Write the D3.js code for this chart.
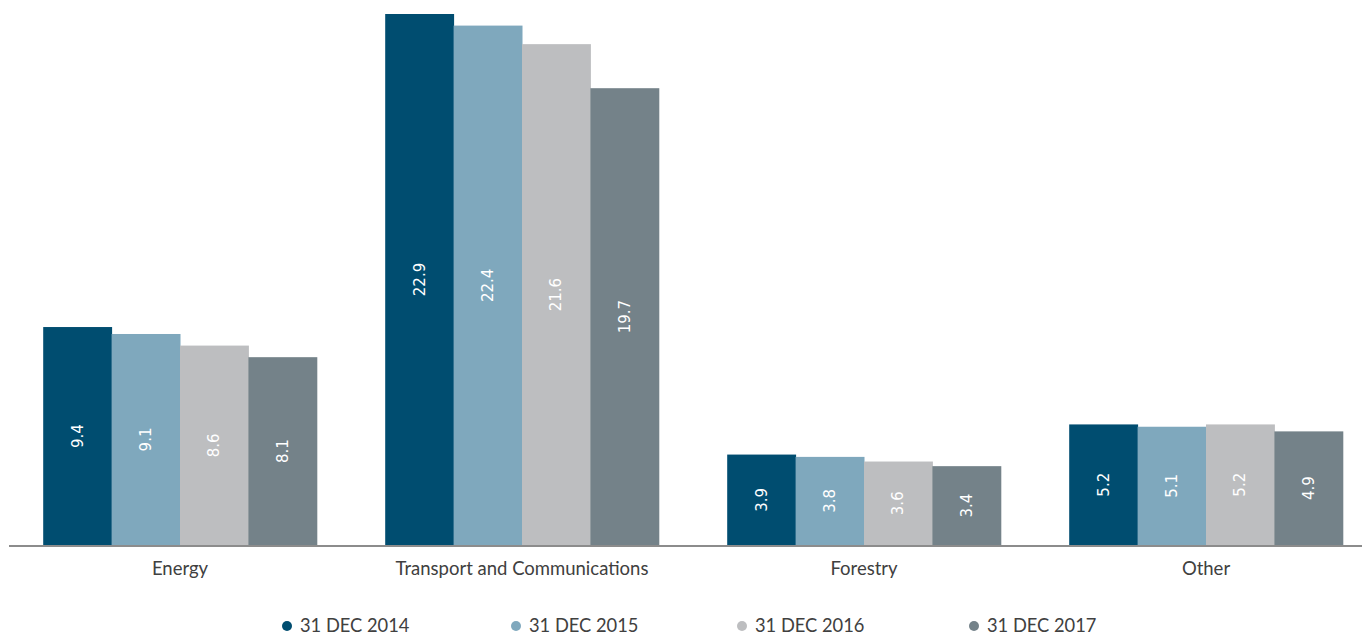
<!DOCTYPE html>
<html>
<head>
<meta charset="utf-8">
<script src="https://cdn.jsdelivr.net/npm/d3@7"></script>
<style>
  html, body { margin: 0; padding: 0; background: #ffffff; }
  svg { display: block; }
</style>
</head>
<body>
<svg id="chart" width="1362" height="635"></svg>
<script>
// Sector breakdown by reporting date
const categories = ["Energy", "Transport and Communications", "Forestry", "Other"];
const seriesNames = ["31 DEC 2014", "31 DEC 2015", "31 DEC 2016", "31 DEC 2017"];
const dec2014 = [9.4, 22.9, 3.9, 5.2];
const dec2015 = [9.1, 22.4, 3.8, 5.1];
const dec2016 = [8.6, 21.6, 3.6, 5.2];
const dec2017 = [8.1, 19.7, 3.4, 4.9];
const seriesColors = ["#004d70", "#7fa8bd", "#bdbec0", "#748289"];

const seriesValues = [dec2014, dec2015, dec2016, dec2017];

const svg = d3.select("#chart");
const baseY = 545;

const x0 = d3.scaleBand()
  .domain(categories)
  .range([9, 1377])
  .paddingInner(0.2)
  .paddingOuter(0.1);

const x1 = d3.scaleBand()
  .domain(seriesNames)
  .range([0, x0.bandwidth()])
  .padding(0);

const y = d3.scaleLinear()
  .domain([0, 22.9])
  .range([baseY, 14]);

const color = d3.scaleOrdinal().domain(seriesNames).range(seriesColors);

const rows = categories.map((c, i) => ({
  category: c,
  values: seriesNames.map((s, j) => ({ series: s, value: seriesValues[j][i] }))
}));

const groups = svg.append("g")
  .selectAll("g")
  .data(rows)
  .join("g")
  .attr("transform", d => `translate(${x0(d.category)},0)`);

groups.selectAll("rect")
  .data(d => d.values)
  .join("rect")
  .attr("x", d => x1(d.series))
  .attr("y", d => y(d.value))
  .attr("width", x1.bandwidth() + 0.5)
  .attr("height", d => baseY - y(d.value))
  .attr("fill", d => color(d.series));

groups.selectAll("text")
  .data(d => d.values)
  .join("text")
  .attr("transform", d => {
    const cx = x1(d.series) + x1.bandwidth() / 2;
    const cy = (y(d.value) + baseY) / 2;
    return `translate(${cx},${cy}) rotate(-90)`;
  })
  .attr("text-anchor", "middle")
  .attr("dy", "0.35em")
  .attr("fill", "#ffffff")
  .attr("font-family", "'DejaVu Sans', sans-serif")
  .attr("font-size", 15)
  .text(d => d.value.toFixed(1));

// Baseline axis
svg.append("line")
  .attr("x1", 9).attr("x2", 1362)
  .attr("y1", baseY + 1).attr("y2", baseY + 1)
  .attr("stroke", "#8c8c8c")
  .attr("stroke-width", 2);

const xAxis = d3.axisBottom(x0).tickSize(0).tickPadding(0);
const axisG = svg.append("g")
  .attr("transform", `translate(0,${baseY})`)
  .call(xAxis);
axisG.select(".domain").remove();
axisG.selectAll("text")
  .attr("y", 30)
  .attr("dy", 0)
  .attr("fill", "#404040")
  .attr("font-family", "Lato, 'Open Sans', sans-serif")
  .attr("font-size", 18.5);

// Legend
const legendX = [287, 516, 742, 974];
const legend = svg.append("g")
  .selectAll("g")
  .data(seriesNames)
  .join("g")
  .attr("transform", (d, i) => `translate(${legendX[i]},626)`);

legend.append("circle")
  .attr("r", 5)
  .attr("fill", d => color(d));

legend.append("text")
  .attr("x", 13)
  .attr("dy", "0.35em")
  .attr("fill", "#404040")
  .attr("font-family", "Lato, 'Open Sans', sans-serif")
  .attr("font-size", 18.3)
  .text(d => d);
</script>
</body>
</html>
